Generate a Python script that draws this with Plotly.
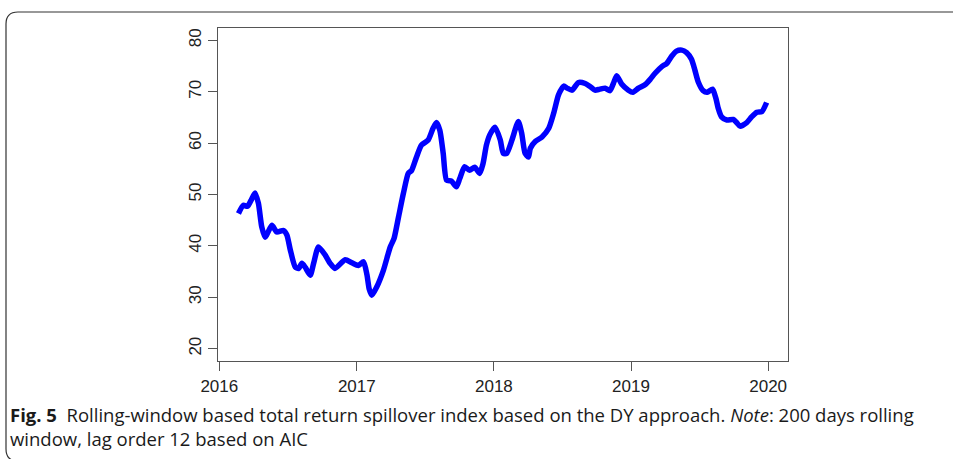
import plotly.graph_objects as go

# ---- data ----
dates = [
    "2016-02-21", "2016-03-05", "2016-03-16", "2016-03-25", "2016-04-05", "2016-04-14",
    "2016-04-23", "2016-05-02", "2016-05-20", "2016-06-02", "2016-06-20", "2016-06-29",
    "2016-07-08", "2016-07-21", "2016-07-30", "2016-08-08", "2016-08-17", "2016-08-30",
    "2016-09-08", "2016-09-21", "2016-10-09", "2016-10-22", "2016-11-04", "2016-12-01",
    "2016-12-19", "2017-01-05", "2017-01-19", "2017-01-28", "2017-02-03", "2017-02-10",
    "2017-02-23", "2017-03-13", "2017-03-31", "2017-04-10", "2017-04-22", "2017-05-05",
    "2017-05-18", "2017-05-27", "2017-06-09", "2017-06-22", "2017-07-10", "2017-07-23",
    "2017-08-01", "2017-08-10", "2017-08-19", "2017-08-28", "2017-09-10", "2017-09-23",
    "2017-10-02", "2017-10-15", "2017-10-28", "2017-11-11", "2017-11-24", "2017-12-03",
    "2017-12-12", "2017-12-21", "2018-01-04", "2018-01-18", "2018-01-26", "2018-02-04",
    "2018-02-18", "2018-03-07", "2018-03-16", "2018-03-25", "2018-04-03", "2018-04-08",
    "2018-04-21", "2018-05-09", "2018-05-27", "2018-06-09", "2018-06-22", "2018-07-06",
    "2018-07-15", "2018-07-28", "2018-08-14", "2018-09-01", "2018-09-14", "2018-09-27",
    "2018-10-10", "2018-10-24", "2018-11-06", "2018-11-15", "2018-11-24", "2018-12-07",
    "2018-12-25", "2019-01-06", "2019-01-21", "2019-02-08", "2019-02-21", "2019-03-06",
    "2019-03-24", "2019-04-06", "2019-04-19", "2019-05-02", "2019-05-16", "2019-05-29",
    "2019-06-11", "2019-06-20", "2019-06-29", "2019-07-12", "2019-07-23", "2019-08-06",
    "2019-08-15", "2019-08-21", "2019-08-30", "2019-09-13", "2019-09-30", "2019-10-09",
    "2019-10-18", "2019-11-05", "2019-11-18", "2019-12-02", "2019-12-15", "2019-12-28",
]
spillover = [
    46.3, 47.9, 47.7, 48.8, 50.3, 48.3,
    43.7, 41.7, 44.0, 42.7, 43.0, 42.1,
    39.2, 35.9, 35.6, 36.6, 35.8, 34.3,
    36.6, 39.8, 38.2, 36.6, 35.6, 37.3,
    36.7, 36.2, 36.9, 34.4, 31.6, 30.4,
    32.0, 35.3, 39.8, 41.4, 45.6, 50.2,
    54.1, 54.7, 57.3, 59.6, 60.6, 62.9,
    64.0, 62.5, 58.0, 52.8, 52.6, 51.5,
    53.1, 55.4, 54.7, 55.3, 54.1, 56.0,
    59.6, 61.6, 63.1, 60.6, 58.0, 58.0,
    60.6, 64.2, 61.9, 58.0, 57.3, 59.0,
    60.3, 61.2, 62.9, 65.8, 69.4, 71.1,
    70.7, 70.3, 71.8, 71.6, 71.0, 70.3,
    70.5, 70.7, 70.2, 71.6, 73.1, 71.5,
    70.3, 69.9, 70.7, 71.4, 72.4, 73.6,
    74.9, 75.5, 76.9, 77.9, 78.1, 77.6,
    76.3, 74.2, 71.9, 70.2, 69.9, 70.5,
    68.7, 66.8, 65.1, 64.5, 64.6, 64.0,
    63.3, 64.0, 65.1, 66.0, 66.1, 67.9,
]
x_tick_vals = ["2016-01-01", "2017-01-01", "2018-01-01", "2019-01-01", "2020-01-01"]
x_tick_text = ["2016", "2017", "2018", "2019", "2020"]
y_tick_vals = [20, 30, 40, 50, 60, 70, 80]
y_tick_text = ["20", "30", "40", "50", "60", "70", "80"]

caption_line1 = ("<b>Fig. 5</b>  Rolling-window based total return spillover index based on "
                 "the DY approach. <i>Note</i>: 200 days rolling")
caption_line2 = "window, lag order 12 based on AIC"

# ---- layout geometry ----
W, H = 953, 459
ML, MR, MT, MB = 218, 165, 28, 98
PW, PH = W - ML - MR, H - MT - MB


def px_x(px):
    return (px - ML) / PW


def px_y(py):
    return (H - MB - py) / PH


fig = go.Figure()
fig.add_trace(go.Scatter(
    x=dates, y=spillover, mode="lines",
    line=dict(color="#0000FF", width=5.5, shape="spline", smoothing=0.6),
    hoverinfo="x+y", showlegend=False,
))

axis_font = dict(family="Liberation Sans, Arial, sans-serif", size=17, color="#222222")

fig.update_layout(
    width=W, height=H,
    margin=dict(l=ML, r=MR, t=MT, b=MB, pad=0),
    paper_bgcolor="white", plot_bgcolor="white",
    showlegend=False,
    xaxis=dict(
        type="date",
        range=["2015-12-28 12:00", "2020-02-22 21:00"],
        tickmode="array", tickvals=x_tick_vals, ticktext=x_tick_text,
        ticks="outside", ticklen=9, tickwidth=1.2, tickcolor="#555555",
        showline=True, linecolor="#555555", linewidth=1.3, mirror=True,
        showgrid=False, zeroline=False,
        tickfont=axis_font,
    ),
    yaxis=dict(
        range=[17.6, 82.4],
        tickmode="array", tickvals=y_tick_vals, ticktext=y_tick_text,
        ticks="outside", ticklen=9, tickwidth=1.2, tickcolor="#555555",
        tickangle=-90,
        showline=True, linecolor="#555555", linewidth=1.3, mirror=True,
        showgrid=False, zeroline=False,
        tickfont=axis_font,
    ),
)

# outer rounded frame (left/top visible, continues off page)
xL, xR = px_x(6), px_x(962)
yT, yB = px_y(12), px_y(461)
rx, ry = 12 / PW, 12 / PH
path = (f"M {xR},{yB} L {xL + rx},{yB} Q {xL},{yB} {xL},{yB + ry} "
        f"L {xL},{yT - ry} Q {xL},{yT} {xL + rx},{yT} L {xR},{yT}")
fig.add_shape(type="path", path=path, xref="paper", yref="paper",
              line=dict(color="#333333", width=1.2), layer="below")

cap_font = dict(family="Open Sans, Noto Sans, sans-serif", size=18.5, color="#1a1a1a")
fig.add_annotation(text=caption_line1, xref="paper", yref="paper",
                   x=px_x(8), y=px_y(414), xanchor="left", yanchor="middle",
                   showarrow=False, font=cap_font)
fig.add_annotation(text=caption_line2, xref="paper", yref="paper",
                   x=px_x(8), y=px_y(438), xanchor="left", yanchor="middle",
                   showarrow=False, font=cap_font)

fig.write_html("out.html", config={"displayModeBar": False},
               post_script="document.body.style.margin='0';")
